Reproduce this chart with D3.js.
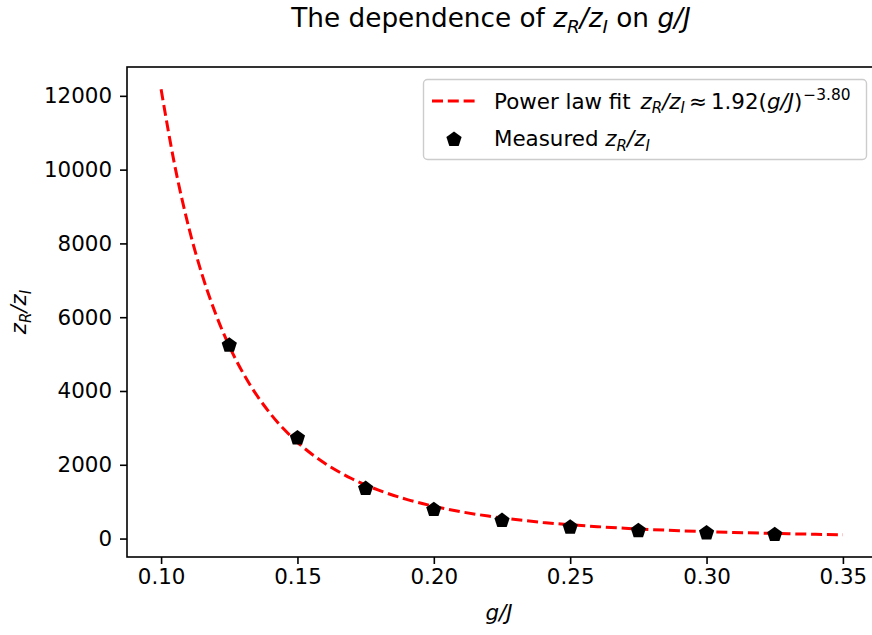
<!DOCTYPE html>
<html><head><meta charset="utf-8">
<script src="https://cdn.jsdelivr.net/npm/d3@7"></script>
<style>
body{margin:0;background:#fff;}
text{font-family:"DejaVu Sans",sans-serif;fill:#000;}
</style></head>
<body><svg id="c" width="872" height="635"></svg>
<script>
// Measured points
const measuredX = [0.125, 0.15, 0.175, 0.2, 0.225, 0.25, 0.275, 0.3, 0.325];
const measuredY = [5260, 2750, 1376, 806, 508, 326, 236, 171, 128];
// Fit curve
const fitX = [0.10, 0.105, 0.11, 0.115, 0.12, 0.125, 0.13, 0.14, 0.15, 0.16, 0.17, 0.18, 0.19, 0.20,
              0.21, 0.22, 0.23, 0.24, 0.25, 0.26, 0.27, 0.28, 0.29, 0.30, 0.31, 0.32, 0.33, 0.34, 0.35];
const fitY = [12178, 10117, 8477, 7160, 6091, 5216, 4494, 3391, 2610, 2041, 1621, 1305, 1062, 875,
              726, 609, 514, 437, 374, 323, 280, 243, 213, 187, 165, 147, 130, 116, 104];
const xTicks = [0.10, 0.15, 0.20, 0.25, 0.30, 0.35];
const yTicks = [0, 2000, 4000, 6000, 8000, 10000, 12000];

const svg = d3.select("#c");
const L = 127, R = 877, T = 67, B = 557;
const FS = 21.4;

const xExt = d3.extent(fitX.concat(measuredX));
const yExt = d3.extent(fitY.concat(measuredY));
const xPad = (xExt[1]-xExt[0])*0.05, yPad = (yExt[1]-yExt[0])*0.05;
const x = d3.scaleLinear().domain([xExt[0]-xPad, xExt[1]+xPad]).range([L, R]);
const y = d3.scaleLinear().domain([yExt[0]-yPad, yExt[1]+yPad]).range([B, T]);

// rich text helper
function rich(textSel, parts, fs) {
  let shift = 0;
  parts.forEach(p => {
    const ts = textSel.append("tspan").text(p.t);
    let target = 0, size = fs;
    if (p.sub) { target = fs*0.22; size = fs*0.7; }
    if (p.sup) { target = -fs*0.42; size = fs*0.72; }
    ts.attr("dy", target - shift).style("font-size", size + "px");
    if (p.it) ts.style("font-style", "italic");
    if (p.dx) ts.attr("dx", p.dx);
    shift = target;
  });
}

// fit line
svg.append("clipPath").attr("id", "clip").append("rect").attr("x", L).attr("y", T).attr("width", R-L).attr("height", B-T);
const g = svg.append("g").attr("clip-path", "url(#clip)");
const line = d3.line().x((d,i)=>x(fitX[i])).y(d=>y(d)).curve(d3.curveMonotoneX);
g.append("path").attr("d", line(fitY)).attr("fill","none").attr("stroke","#ff0000")
  .attr("stroke-width",3).attr("stroke-dasharray","11,4.8");

// pentagon markers
function pentagonPath(r){
  const pts=[];
  for(let k=0;k<5;k++){const a=-Math.PI/2+k*2*Math.PI/5;pts.push([r*Math.cos(a),r*Math.sin(a)]);}
  return "M"+pts.map(p=>p.join(",")).join("L")+"Z";
}
g.selectAll(".pt").data(measuredY).enter().append("path")
  .attr("d", pentagonPath(8))
  .attr("transform",(d,i)=>`translate(${x(measuredX[i])},${y(d)+0.8})`)
  .attr("fill","#000");

// axes
const xAxis = d3.axisBottom(x).tickValues(xTicks).tickFormat(d3.format(".2f")).tickSize(7).tickPadding(5);
const yAxis = d3.axisLeft(y).tickValues(yTicks).tickFormat(d3.format("d")).tickSize(7).tickPadding(8);
const gx = svg.append("g").attr("transform",`translate(0,${B})`).call(xAxis);
const gy = svg.append("g").attr("transform",`translate(${L},0)`).call(yAxis);
[gx,gy].forEach(a=>{
  a.select(".domain").remove();
  a.selectAll(".tick line").attr("stroke","#000").attr("stroke-width",1.6);
  a.selectAll(".tick text").style("font-size",FS+"px").style("font-family","DejaVu Sans").attr("fill","#000");
});
// spines
svg.append("rect").attr("x",L).attr("y",T).attr("width",R-L).attr("height",B-T)
  .attr("fill","none").attr("stroke","#000").attr("stroke-width",1.6);

// title
const title = svg.append("text").attr("x", 491).attr("y", 27).attr("text-anchor","middle").style("font-size","26.3px");
rich(title, [{t:"The dependence of "},{t:"z",it:1},{t:"R",it:1,sub:1},{t:"/z",it:1},{t:"I",it:1,sub:1},{t:" on "},{t:"g/J",it:1}], 26.3);

// x label
const xl = svg.append("text").attr("x", (L+R)/2 - 3).attr("y", 620).attr("text-anchor","middle").style("font-size",FS+"px");
rich(xl, [{t:"g/J",it:1}], FS);
// y label
const yl = svg.append("text").attr("transform",`translate(26,${(T+B)/2}) rotate(-90)`).attr("text-anchor","middle").style("font-size",FS+"px");
rich(yl, [{t:"z",it:1},{t:"R",it:1,sub:1},{t:"/z",it:1},{t:"I",it:1,sub:1}], FS);

// legend
const lg = svg.append("g");
lg.append("rect").attr("x",423.5).attr("y",79.5).attr("width",443).attr("height",80).attr("rx",4)
  .attr("fill","#fff").attr("fill-opacity",0.8).attr("stroke","#cccccc").attr("stroke-width",1.4);
lg.append("line").attr("x1",432).attr("x2",476).attr("y1",101).attr("y2",101)
  .attr("stroke","#ff0000").attr("stroke-width",3).attr("stroke-dasharray","11,4.8");
lg.append("path").attr("d",pentagonPath(8)).attr("transform","translate(454,139.5)").attr("fill","#000");
const t1 = lg.append("text").attr("x",494).attr("y",108.5).style("font-size",FS+"px");
rich(t1, [{t:"Power law fit "},{t:"z",it:1,dx:3},{t:"R",it:1,sub:1},{t:"/z",it:1},{t:"I",it:1,sub:1},{t:"≈",dx:4},{t:"1.92(",dx:4},{t:"g/J",it:1},{t:")"},{t:"−3.80",sup:1,dx:1}], FS);
const t2 = lg.append("text").attr("x",494).attr("y",146).style("font-size",FS+"px");
rich(t2, [{t:"Measured "},{t:"z",it:1},{t:"R",it:1,sub:1},{t:"/z",it:1},{t:"I",it:1,sub:1}], FS);
</script></body></html>
